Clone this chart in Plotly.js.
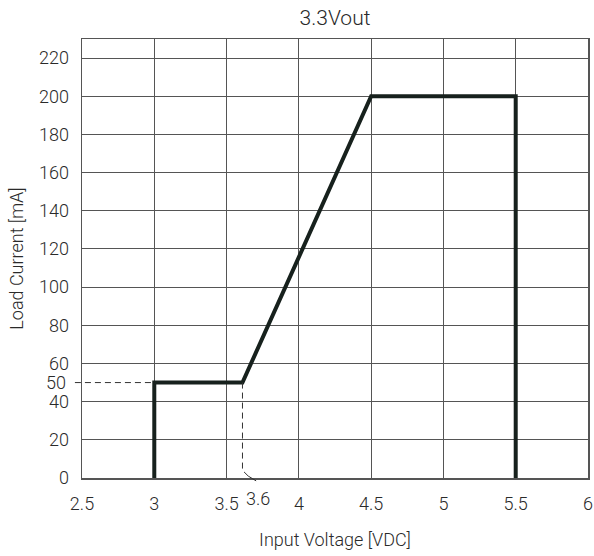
<!DOCTYPE html>
<html><head><meta charset="utf-8">
<script src="https://cdn.plot.ly/plotly-3.0.1.min.js"></script>
<style>body{margin:0;background:#fff}#c{width:594px;height:556px}</style>
</head><body><div id="c"></div>
<script>
const voltage = [3, 3, 3.61, 4.5, 5.5, 5.5];
const current = [0, 50, 50, 200, 200, 0];
const xTicks = [2.5, 3, 3.5, 4, 4.5, 5, 5.5, 6];
const yTicks = [0, 20, 40, 60, 80, 100, 120, 140, 160, 180, 200, 220];
const markV = 3.61, markI = 50;

const F = 'Roboto, "Liberation Sans", sans-serif';
const W = 300;
const txt = '#2a2a2a';
const fnt = (s) => ({family: F, size: s, color: txt, weight: W});
const trace = {x: voltage, y: current, mode: 'lines', line: {color: '#17211d', width: 4}, hoverinfo: 'skip'};
const layout = {
  width: 594, height: 556,
  margin: {l: 82, r: 6, t: 39, b: 78},
  paper_bgcolor: '#fff', plot_bgcolor: '#fff',
  showlegend: false,
  font: fnt(18),
  title: {text: '3.3Vout', x: 0.5, xref: 'paper', y: 0.968, yanchor: 'middle', font: fnt(21)},
  xaxis: {range: [2.5, 6], tickvals: xTicks, ticktext: xTicks.map(String), showgrid: true, gridcolor: '#555', gridwidth: 1,
    showline: true, mirror: true, linecolor: '#555', linewidth: 1.5, zeroline: false, ticks: '', fixedrange: true,
    ticklabelstandoff: 9, tickfont: fnt(18),
    title: {text: 'Input Voltage [VDC]', standoff: 20, font: fnt(18)}},
  yaxis: {range: [0, 230], tickvals: yTicks, ticktext: yTicks.map(String), showgrid: true, gridcolor: '#555', gridwidth: 1,
    showline: true, mirror: true, linecolor: '#555', linewidth: 1.5, zeroline: false, ticks: '', fixedrange: true,
    ticklabelstandoff: 8, tickfont: fnt(18),
    title: {text: 'Load Current [mA]', standoff: 10, font: fnt(18)}},
  shapes: [
    {type: 'line', xref: 'paper', yref: 'y', x0: -0.014, x1: (3 - 2.5) / 3.5, y0: markI, y1: markI, line: {color: '#333', width: 1, dash: '6px,4px'}},
    {type: 'path', xref: 'x', yref: 'y', path: `M ${markV} ${markI} L ${markV} 4 L ${markV + 0.04} 1`, line: {color: '#333', width: 1, dash: '6px,4px'}}
  ],
  annotations: [
    {text: '50', xref: 'paper', yref: 'y', x: 0, y: markI, xanchor: 'right', yanchor: 'middle', xshift: -14, showarrow: false, font: fnt(18)},
    {text: '3.6', xref: 'x', yref: 'y', x: 3.72, y: 0, xanchor: 'center', yanchor: 'top', yshift: -8, showarrow: false, font: fnt(18)},
    {xref: 'x', yref: 'y', x: markV + 0.04, y: 1, ax: 3.715, ay: -2, axref: 'x', ayref: 'y', showarrow: true, arrowhead: 0, arrowwidth: 1, arrowcolor: '#333', text: ''},
    {xref: 'x', yref: 'y', x: 3.715, y: -2, ax: 3.715, ay: -5, axref: 'x', ayref: 'y', showarrow: true, arrowhead: 0, arrowwidth: 1, arrowcolor: '#333', text: ''}
  ]
};
Plotly.newPlot('c', [trace], layout, {displayModeBar: false, staticPlot: true});
</script></body></html>
